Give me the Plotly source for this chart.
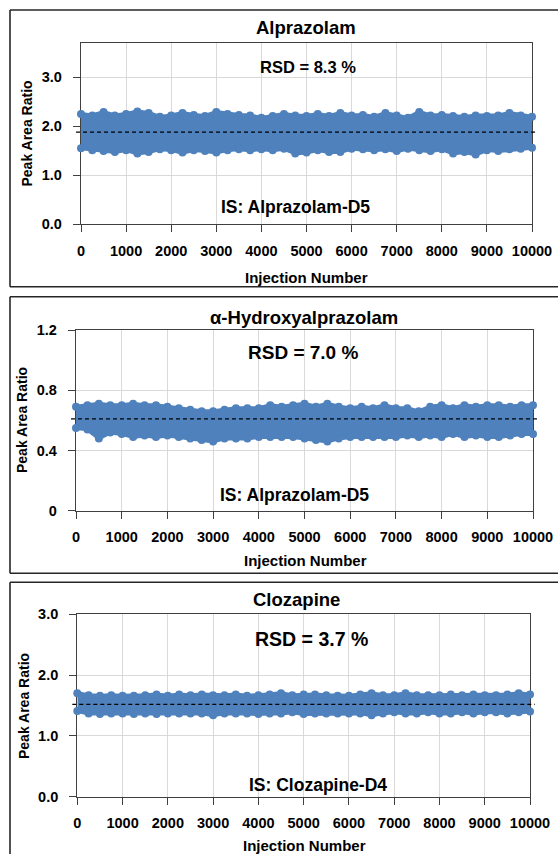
import plotly.graph_objects as go

W, H = 558, 854

# ---------------- data ----------------
injection = [0, 250, 500, 750, 1000, 1250, 1500, 1750, 2000, 2250, 2500, 2750, 3000, 3250,
             3500, 3750, 4000, 4250, 4500, 4750, 5000, 5250, 5500, 5750, 6000, 6250, 6500,
             6750, 7000, 7250, 7500, 7750, 8000, 8250, 8500, 8750, 9000, 9250, 9500, 9750, 10000]

alp_upper = [2.25, 2.22, 2.29, 2.22, 2.25, 2.30, 2.27, 2.19, 2.22, 2.27, 2.23, 2.21, 2.29, 2.25,
             2.23, 2.22, 2.17, 2.21, 2.25, 2.22, 2.21, 2.25, 2.21, 2.27, 2.22, 2.23, 2.19,
             2.27, 2.22, 2.17, 2.29, 2.22, 2.23, 2.21, 2.19, 2.22, 2.21, 2.22, 2.27, 2.22, 2.19]
alp_lower = [1.55, 1.51, 1.49, 1.47, 1.51, 1.44, 1.47, 1.53, 1.51, 1.46, 1.51, 1.49, 1.46, 1.51,
             1.53, 1.51, 1.53, 1.51, 1.54, 1.44, 1.46, 1.51, 1.47, 1.47, 1.54, 1.53, 1.51,
             1.53, 1.49, 1.54, 1.51, 1.49, 1.53, 1.44, 1.47, 1.42, 1.51, 1.49, 1.53, 1.54, 1.56]

hyd_upper = [0.69, 0.70, 0.71, 0.70, 0.70, 0.71, 0.70, 0.70, 0.69, 0.68, 0.67, 0.66, 0.66, 0.67,
             0.68, 0.68, 0.68, 0.70, 0.69, 0.70, 0.71, 0.69, 0.71, 0.69, 0.68, 0.69, 0.68,
             0.70, 0.68, 0.68, 0.66, 0.69, 0.70, 0.68, 0.70, 0.69, 0.70, 0.70, 0.69, 0.70, 0.70]
hyd_lower = [0.55, 0.54, 0.48, 0.52, 0.51, 0.49, 0.50, 0.49, 0.50, 0.49, 0.48, 0.47, 0.46, 0.48,
             0.48, 0.48, 0.49, 0.49, 0.49, 0.49, 0.48, 0.47, 0.46, 0.48, 0.49, 0.49, 0.49,
             0.49, 0.49, 0.50, 0.49, 0.50, 0.49, 0.51, 0.49, 0.50, 0.49, 0.49, 0.50, 0.51, 0.51]

clz_upper = [1.70, 1.67, 1.66, 1.67, 1.66, 1.66, 1.67, 1.68, 1.66, 1.68, 1.67, 1.68, 1.67, 1.67,
             1.68, 1.66, 1.67, 1.68, 1.70, 1.67, 1.68, 1.68, 1.67, 1.66, 1.66, 1.68, 1.70,
             1.67, 1.67, 1.70, 1.67, 1.67, 1.67, 1.68, 1.67, 1.68, 1.67, 1.67, 1.68, 1.70, 1.68]
clz_lower = [1.41, 1.37, 1.36, 1.37, 1.37, 1.36, 1.37, 1.36, 1.37, 1.37, 1.37, 1.37, 1.34, 1.37,
             1.37, 1.37, 1.36, 1.37, 1.37, 1.39, 1.36, 1.37, 1.37, 1.37, 1.37, 1.37, 1.34,
             1.37, 1.39, 1.37, 1.37, 1.39, 1.37, 1.37, 1.39, 1.37, 1.39, 1.39, 1.37, 1.39, 1.40]

compounds = ["Alprazolam", "α-Hydroxyalprazolam", "Clozapine"]
internal_std = ["IS: Alprazolam-D5", "IS: Alprazolam-D5", "IS: Clozapine-D4"]
rsd_labels = ["RSD = 8.3 %", "RSD = 7.0 %", "RSD = 3.7 %"]
mean_ratio = [1.88, 0.61, 1.52]

x_ticks = [0, 1000, 2000, 3000, 4000, 5000, 6000, 7000, 8000, 9000, 10000]
x_ticktext = ["0", "1000", "2000", "3000", "4000", "5000", "6000", "7000", "8000", "9000", "10000"]
y_ticks = [[0, 1, 2, 3], [0, 0.4, 0.8, 1.2], [0, 1, 2, 3]]
y_ticktext = [["0.0", "1.0", "2.0", "3.0"], ["0", "0.4", "0.8", "1.2"], ["0.0", "1.0", "2.0", "3.0"]]
y_max = [3.7, 1.2, 3.0]

x_title = "Injection Number"
y_title = "Peak Area Ratio"

uppers = [alp_upper, hyd_upper, clz_upper]
lowers = [alp_lower, hyd_lower, clz_lower]

# ---------------- layout geometry (pixels) ----------------
BLUE = "#4F81BD"
FONT = "Liberation Sans, Arial, sans-serif"


def fx(px):
    return px / W


def fy(py):
    return 1 - py / H


# plot area: left, right, top, bottom
plot_px = [(81, 532, 43, 224), (76, 533, 330, 510.7), (77.3, 530, 614.3, 796.7)]
box_px = [(10, 286.7), (296.7, 573.3), (582.3, None)]
title_px = [(306, 27), (304, 317), (296, 599)]
rsd_px = [(308, 67, 16.5), (302.5, 352, 19), (311, 638.5, 19.5)]
is_px = [(295, 207), (294, 495), (318, 785)]
ytitle_px = [(26, 133.5), (22, 420), (24, 706)]
xtitle_px = [(306.5, 277), (305, 560), (304, 845)]

fig = go.Figure()
annotations = []
shapes = []
layout_axes = {}


def border_line(x0, y0, x1, y1):
    shapes.append(dict(type="line", xref="paper", yref="paper",
                       x0=fx(x0), y0=fy(y0), x1=fx(x1), y1=fy(y1),
                       line=dict(color="#262626", width=1.6), layer="below"))


for i in range(3):
    n = "" if i == 0 else str(i + 1)
    xa, ya = "x" + n, "y" + n
    l, r, t, b = plot_px[i]

    # dense cloud of injections: filled envelope
    fig.add_trace(go.Scatter(
        x=injection + injection[::-1],
        y=uppers[i] + lowers[i][::-1],
        fill="toself", fillcolor=BLUE, mode="lines",
        line=dict(width=4, color=BLUE),
        xaxis=xa, yaxis=ya, hoverinfo="skip", showlegend=False))
    # outermost points of the cloud
    fig.add_trace(go.Scatter(
        x=injection + injection,
        y=uppers[i] + lowers[i],
        mode="markers", marker=dict(size=8, color=BLUE, line=dict(width=0)),
        cliponaxis=False,
        xaxis=xa, yaxis=ya, hoverinfo="skip", showlegend=False))

    shapes.append(dict(type="line", xref=xa + " domain", yref=ya,
                       x0=-0.011, x1=1.011, y0=mean_ratio[i], y1=mean_ratio[i],
                       line=dict(color="black", width=1.3, dash="4px,3px"), layer="above"))

    layout_axes["xaxis" + n] = dict(
        domain=[fx(l), fx(r)], anchor=ya, range=[0, 10000], automargin=False,
        tickvals=x_ticks, ticktext=x_ticktext,
        ticks="outside", ticklen=7, tickwidth=1.2, tickcolor="#404040",
        showline=True, linecolor="#404040", linewidth=1.3, mirror=True,
        showgrid=True, gridcolor="#d9d9d9", gridwidth=1, zeroline=False,
        tickfont=dict(family=FONT, size=14.5, color="black", weight="bold"),
        ticklabelstandoff=6, layer="below traces", fixedrange=True)
    layout_axes["yaxis" + n] = dict(
        domain=[fy(b), fy(t)], anchor=xa, range=[0, y_max[i]], automargin=False,
        tickvals=y_ticks[i], ticktext=y_ticktext[i],
        ticks="outside", ticklen=7, tickwidth=1.2, tickcolor="#404040",
        showline=True, linecolor="#404040", linewidth=1.3, mirror=True,
        showgrid=True, gridcolor="#d9d9d9", gridwidth=1, zeroline=False,
        tickfont=dict(family=FONT, size=14.5, color="black", weight="bold"),
        ticklabelstandoff=8, layer="below traces", fixedrange=True)

    by0, by1 = box_px[i]
    border_line(10, by0, W, by0)
    if by1 is not None:
        border_line(10, by1, W, by1)
        border_line(10, by0, 10, by1)
    else:
        border_line(10, by0, 10, H)

    def ann(text, pos, size, angle=0):
        annotations.append(dict(
            text=text, x=fx(pos[0]), y=fy(pos[1]), xref="paper", yref="paper",
            xanchor="center", yanchor="middle", showarrow=False, textangle=angle,
            font=dict(family=FONT, size=size, color="black", weight="bold")))

    ann(compounds[i], title_px[i], 18.5)
    ann(rsd_labels[i], rsd_px[i][:2], rsd_px[i][2])
    ann(internal_std[i], is_px[i], 17.5)
    ann(y_title, ytitle_px[i], 14, -90)
    ann(x_title, xtitle_px[i], 15)

fig.update_layout(
    width=W, height=H, margin=dict(l=0, r=0, t=0, b=0, pad=0, autoexpand=False),
    paper_bgcolor="white", plot_bgcolor="white",
    showlegend=False, annotations=annotations, shapes=shapes,
    **layout_axes)

fig.write_html("out.html", config={"displayModeBar": False},
               post_script="document.body.style.margin='0';document.body.style.overflow='hidden';")
